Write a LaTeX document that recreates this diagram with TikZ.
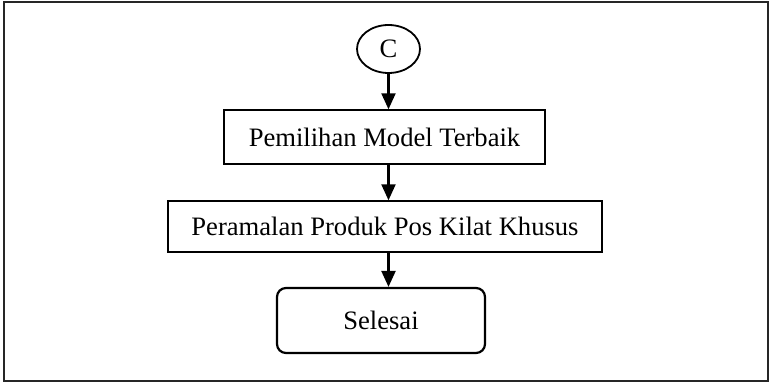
\documentclass[tikz,border=0pt]{standalone}
\usepackage{fontspec}
\setmainfont{Liberation Serif}
\usetikzlibrary{arrows.meta,shapes.geometric}
\begin{document}
\begin{tikzpicture}[x=1pt,y=-1pt,
  every node/.style={font=\fontsize{26.6}{30}\selectfont, inner sep=0pt},
  procbox/.style={draw, line width=1.4pt, rectangle},
  endbox/.style={draw, line width=2.2pt, rounded corners=9pt},
  conn/.style={draw, line width=2.2pt, -{Triangle[length=16pt,width=14pt]}},
]
\useasboundingbox (0,0) rectangle (772,382);
% frame
\draw[line width=1.8pt, black!85] (4,2) rectangle (768,381);
% flow
\node[draw, ellipse, line width=1.8pt, minimum width=63pt, minimum height=48pt] (c) at (388.5,49) {C};
\node[procbox, minimum width=321pt, minimum height=54pt] (b1) at (384.5,137) {Pemilihan Model Terbaik};
\node[procbox, minimum width=434pt, minimum height=51pt] (b2) at (385,226.5) {Peramalan Produk Pos Kilat Khusus};
\node[endbox, minimum width=208pt, minimum height=65pt] (end) at (381,320.5) {Selesai};
\path[conn] (c.south) -- (c.south |- b1.north);
\path[conn] (c.south |- b1.south) -- (c.south |- b2.north);
\path[conn] (c.south |- b2.south) -- (c.south |- end.north);
\end{tikzpicture}
\end{document}
